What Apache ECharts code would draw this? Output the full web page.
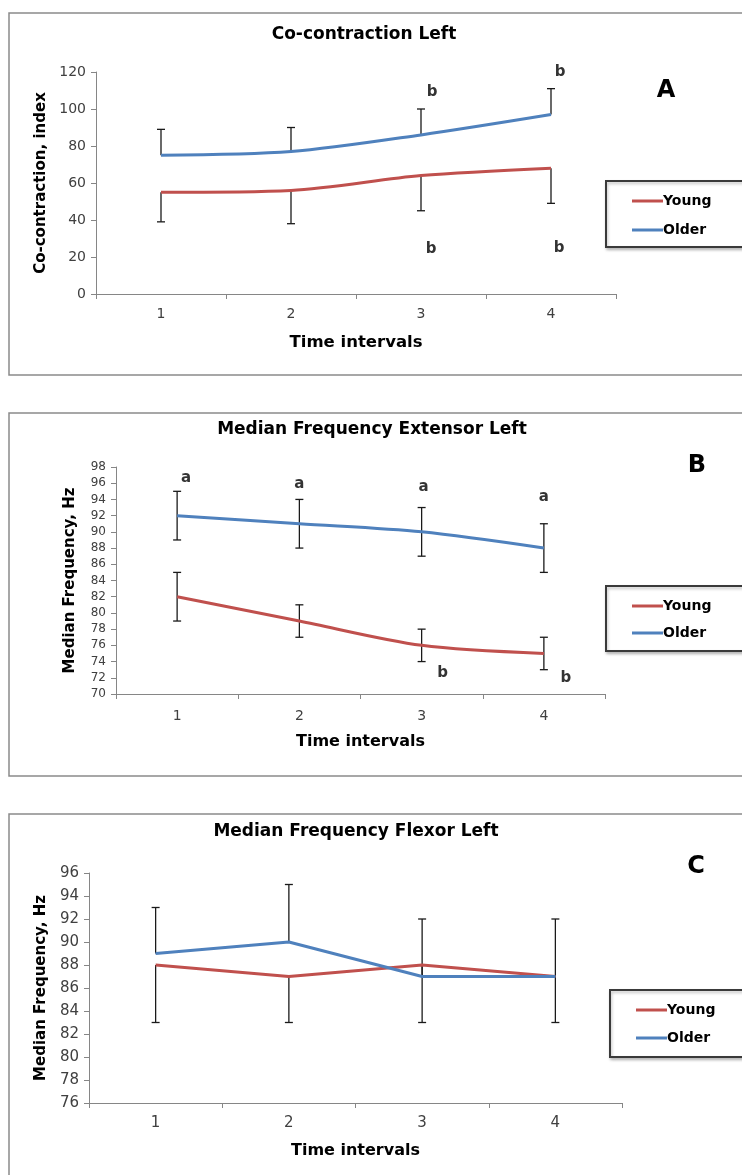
<!DOCTYPE html>
<html>
<head>
<meta charset="utf-8">
<title>Co-contraction and median frequency, left side</title>
<script src="https://cdn.jsdelivr.net/npm/echarts@6/dist/echarts.min.js"></script>
<style>
  html, body { margin: 0; padding: 0; background: #ffffff; }
  #chart { width: 742px; height: 1175px; }
</style>
</head>
<body>
<div id="chart"></div>
<script>
// Time intervals shared by all three panels
const categories = ['1', '2', '3', '4'];

// Panel A: co-contraction index (Older bars go up, Young bars go down)
const coOlder = [75, 77, 86, 97];
const coOlderErr = [14, 13, 14, 14];
const coYoung = [55, 56, 64, 68];
const coYoungErr = [16, 18, 19, 19];

// Panel B: median frequency, extensor (symmetric bars)
const extOlder = [92, 91, 90, 88];
const extOlderErr = [3, 3, 3, 3];
const extYoung = [82, 79, 76, 75];
const extYoungErr = [3, 2, 2, 2];

// Panel C: median frequency, flexor (Older bars go up, Young bars go down)
const flxOlder = [89, 90, 87, 87];
const flxOlderErr = [4, 5, 5, 5];
const flxYoung = [88, 87, 88, 87];
const flxYoungErr = [5, 4, 5, 4];

// Significance letters: text, category index, value where the letter sits
const sigAText = ['b', 'b', 'b', 'b'];
const sigACat = [2, 3, 2, 3];
const sigAVal = [109, 120, 24, 25];

const sigBText = ['a', 'a', 'a', 'a', 'b', 'b'];
const sigBCat = [0, 1, 2, 3, 2, 3];
const sigBVal = [96.6, 95.9, 95.5, 94.3, 72.6, 72.0];

const YOUNG = '#C0504D';
const OLDER = '#4F81BD';
const AXIS = '#868686';
const LABEL = '#404040';
const BOLD = 'DejaVu Sans';

const chart = echarts.init(document.getElementById('chart'), null, { renderer: 'canvas' });

function xAxis(gridIndex, fontSize, labelMargin, nameSize) {
  return {
    type: 'category', gridIndex, data: categories, boundaryGap: true,
    axisLine: { lineStyle: { color: AXIS, width: 1 } },
    axisTick: { show: true, length: 5, lineStyle: { color: AXIS } },
    axisLabel: { color: LABEL, fontFamily: 'DejaVu Sans', fontSize, margin: labelMargin },
    splitLine: { show: false },
    name: 'Time intervals', nameLocation: 'middle', nameGap: 40,
    nameTextStyle: { color: '#000', fontFamily: BOLD, fontWeight: 'bold', fontSize: nameSize }
  };
}

function yAxis(gridIndex, min, max, interval, fontSize, name, nameGap) {
  return {
    type: 'value', gridIndex, min, max, interval,
    axisLine: { show: true, lineStyle: { color: AXIS, width: 1 } },
    axisTick: { show: true, length: 5, lineStyle: { color: AXIS } },
    axisLabel: { color: LABEL, fontFamily: 'DejaVu Sans', fontSize, margin: 10 },
    splitLine: { show: false },
    name, nameLocation: 'middle', nameGap,
    nameTextStyle: { color: '#000', fontFamily: BOLD, fontWeight: 'bold', fontSize: 15 }
  };
}

function lineSeries(name, color, data, axisIndex, smooth) {
  return {
    type: 'line', name, data, xAxisIndex: axisIndex, yAxisIndex: axisIndex,
    smooth, symbol: 'none', z: 3,
    lineStyle: { color, width: 3 }, itemStyle: { color }
  };
}

// Error bars: dir = 1 up only, -1 down only, 0 both ways
function errorSeries(means, errs, axisIndex, dir) {
  return {
    type: 'custom', xAxisIndex: axisIndex, yAxisIndex: axisIndex, silent: true, z: 2,
    data: means.map((m, i) => [i, dir < 0 ? m - errs[i] : (dir > 0 ? m : m - errs[i]),
                                  dir > 0 ? m + errs[i] : (dir < 0 ? m : m + errs[i])]),
    renderItem: function (params, api) {
      const i = api.value(0);
      const lo = api.coord([i, api.value(1)]);
      const hi = api.coord([i, api.value(2)]);
      const hw = 4;
      const style = { stroke: '#1a1a1a', lineWidth: 1.3 };
      const kids = [{ type: 'line', shape: { x1: lo[0], y1: lo[1], x2: hi[0], y2: hi[1] }, style }];
      if (dir >= 0) kids.push({ type: 'line', shape: { x1: hi[0] - hw, y1: hi[1], x2: hi[0] + hw, y2: hi[1] }, style });
      if (dir <= 0) kids.push({ type: 'line', shape: { x1: lo[0] - hw, y1: lo[1], x2: lo[0] + hw, y2: lo[1] }, style });
      return { type: 'group', children: kids };
    }
  };
}

function letterSeries(texts, cats, vals, axisIndex, offsets) {
  return {
    type: 'scatter', xAxisIndex: axisIndex, yAxisIndex: axisIndex, silent: true,
    symbolSize: 0, z: 5,
    data: texts.map((t, i) => ({ value: [cats[i], vals[i]], label: { offset: [offsets[i], 0] } })),
    label: {
      show: true, position: 'inside', color: '#000', fontFamily: BOLD, fontWeight: 'bold', fontSize: 15,
      formatter: p => texts[p.dataIndex]
    }
  };
}

function legend(left, top, gap, pad) {
  return {
    data: ['Young', 'Older'], orient: 'vertical', left, top, itemGap: gap,
    icon: 'rect', itemWidth: 31, itemHeight: 3,
    padding: pad, borderColor: '#3a3a3a', borderWidth: 2, backgroundColor: '#fff',
    shadowColor: 'rgba(0,0,0,0.25)', shadowBlur: 3, shadowOffsetX: 1, shadowOffsetY: 2,
    selectedMode: false,
    textStyle: { color: '#000', fontFamily: BOLD, fontWeight: 'bold', fontSize: 14, lineHeight: 16, padding: [0, 0, 0, -5] }
  };
}

function frame(x, y, w, h) {
  return { type: 'rect', shape: { x, y, width: w, height: h }, silent: true, z: -10,
           style: { fill: 'none', stroke: '#8a8a8a', lineWidth: 1.5 } };
}

function text(str, x, y, size) {
  return { type: 'text', x, y, silent: true, z: 10,
           style: { text: str, fill: '#000', font: 'bold ' + size + 'px "DejaVu Sans"', align: 'center', verticalAlign: 'middle' } };
}

chart.setOption({
  animation: false,
  backgroundColor: '#ffffff',
  grid: [
    { left: 96, top: 72, width: 520, height: 222 },
    { left: 116, top: 467, width: 489, height: 227 },
    { left: 89, top: 873, width: 533, height: 230 }
  ],
  xAxis: [xAxis(0, 14, 13, 16.5), xAxis(1, 14, 15, 16), xAxis(2, 15, 13, 16)],
  yAxis: [
    yAxis(0, 0, 120, 20, 14, 'Co-contraction, index', 45),
    yAxis(1, 70, 98, 2, 12, 'Median Frequency, Hz', 38),
    yAxis(2, 76, 96, 2, 15, 'Median Frequency, Hz', 35)
  ],
  legend: [
    legend(606, 181, 13, [12, 40, 9, 26]),
    legend(606, 586, 11, [12, 40, 10, 26]),
    legend(610, 990, 12, [12, 40, 11, 26])
  ],
  graphic: [
    frame(9, 13, 800, 362),
    frame(9, 413, 800, 363),
    frame(9, 814, 800, 400),
    text('Co-contraction Left', 364, 35, 17),
    text('Median Frequency Extensor Left', 372, 430, 17),
    text('Median Frequency Flexor Left', 356, 832, 17),
    text('A', 666, 91, 24),
    text('B', 697, 466, 24),
    text('C', 696, 867, 24)
  ],
  series: [
    errorSeries(coOlder, coOlderErr, 0, 1),
    errorSeries(coYoung, coYoungErr, 0, -1),
    lineSeries('Young', YOUNG, coYoung, 0, 0.3),
    lineSeries('Older', OLDER, coOlder, 0, 0.3),
    letterSeries(sigAText, sigACat, sigAVal, 0, [11, 9, 10, 8]),

    errorSeries(extOlder, extOlderErr, 1, 0),
    errorSeries(extYoung, extYoungErr, 1, 0),
    lineSeries('Young', YOUNG, extYoung, 1, 0.3),
    lineSeries('Older', OLDER, extOlder, 1, 0.3),
    letterSeries(sigBText, sigBCat, sigBVal, 1, [9, 0, 2, 0, 21, 22]),

    errorSeries(flxOlder, flxOlderErr, 2, 1),
    errorSeries(flxYoung, flxYoungErr, 2, -1),
    lineSeries('Young', YOUNG, flxYoung, 2, false),
    lineSeries('Older', OLDER, flxOlder, 2, false)
  ]
});
</script>
</body>
</html>
